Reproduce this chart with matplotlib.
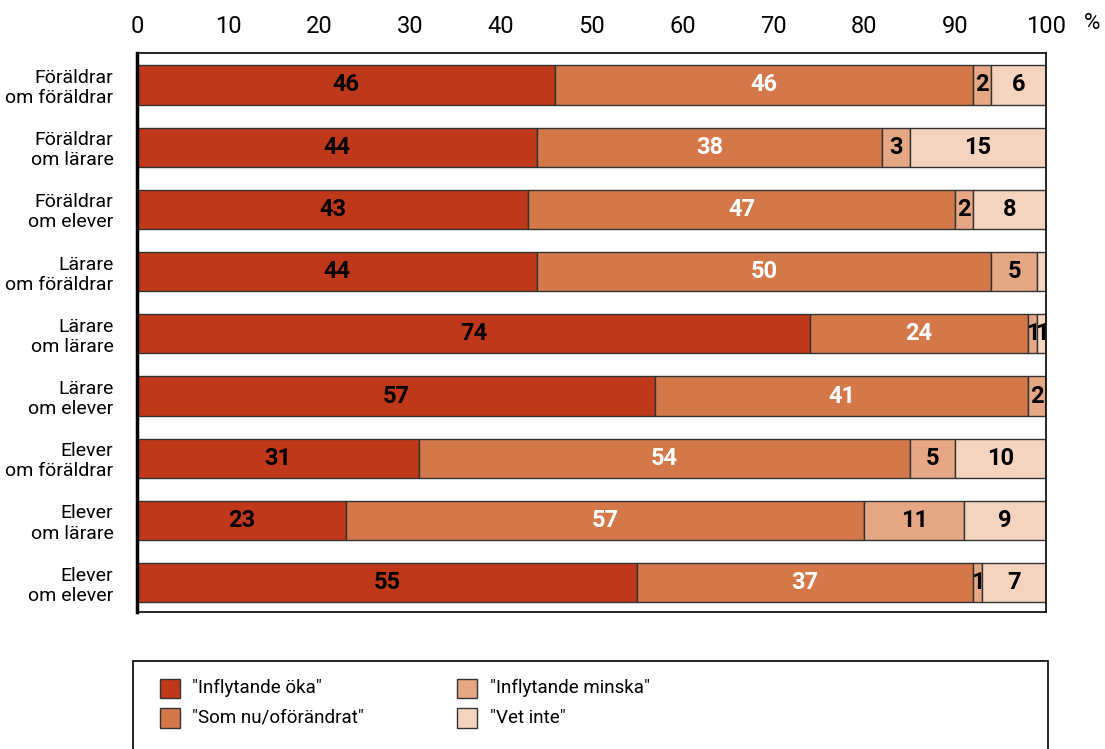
import matplotlib.pyplot as plt
from matplotlib.patches import Rectangle
import numpy as np

plt.rcParams['font.family'] = ['Roboto', 'DejaVu Sans']

# Data
groups = ["Föräldrar\nom föräldrar", "Föräldrar\nom lärare", "Föräldrar\nom elever",
          "Lärare\nom föräldrar", "Lärare\nom lärare", "Lärare\nom elever",
          "Elever\nom föräldrar", "Elever\nom lärare", "Elever\nom elever"]
oka = [46, 44, 43, 44, 74, 57, 31, 23, 55]
somnu = [46, 38, 47, 50, 24, 41, 54, 57, 37]
minska = [2, 3, 2, 5, 1, 2, 5, 11, 1]
vetinte = [6, 15, 8, 1, 1, 0, 10, 9, 7]
show_vet = [True, True, True, False, True, False, True, True, True]

series = [oka, somnu, minska, vetinte]
names = ['"Inflytande öka"', '"Som nu/oförändrat"', '"Inflytande minska"', '"Vet inte"']
colors = ['#C0381A', '#D4784A', '#E6A884', '#F4D4BE']
txtcol = ['black', 'white', 'black', 'black']

fig = plt.figure(figsize=(11.05, 7.49), dpi=100)
ax = fig.add_axes([0.124, 0.183, 0.8226, 0.746])

y = np.arange(len(groups))
left = np.zeros(len(groups))
for k, vals in enumerate(series):
    vals = np.array(vals)
    ax.barh(y, vals, left=left, height=0.63, color=colors[k],
            edgecolor='#333333', linewidth=1)
    for i, v in enumerate(vals):
        if v == 0:
            continue
        if k == 3 and not show_vet[i]:
            continue
        ax.text(left[i] + v / 2, y[i], str(v), ha='center', va='center',
                fontsize=17, fontweight='bold', color=txtcol[k])
    left += vals

ax.set_xlim(0, 100)
ax.set_ylim(len(groups) - 0.53, -0.51)
ax.set_xticks(range(0, 101, 10))
ax.xaxis.tick_top()
ax.tick_params(axis='x', length=0, labelsize=17, pad=11)
ax.tick_params(axis='y', length=0, labelsize=14, pad=17)
ax.set_yticks(y)
ax.set_yticklabels(groups, ha='right', linespacing=1.15)
for s in ax.spines.values():
    s.set_linewidth(1.2)
ax.spines['left'].set_linewidth(2.5)
fig.text(0.988, 0.968, '%', fontsize=16, ha='center', va='center')

# Legend box
fig.patches.append(Rectangle((0.1205, -0.01), 0.828, 0.128, transform=fig.transFigure,
                             facecolor='none', edgecolor='black', linewidth=1.2))
lx = [0.145, 0.414]
ly = [0.081, 0.042]
for k in range(4):
    col, row = k // 2, k % 2
    fig.patches.append(Rectangle((lx[col], ly[row] - 0.0135), 0.018, 0.026,
                                 transform=fig.transFigure, facecolor=colors[k],
                                 edgecolor='#333333', linewidth=1))
    fig.text(lx[col] + 0.029, ly[row], names[k], fontsize=13.5, va='center', ha='left')

fig.savefig('out.png', dpi=100)
